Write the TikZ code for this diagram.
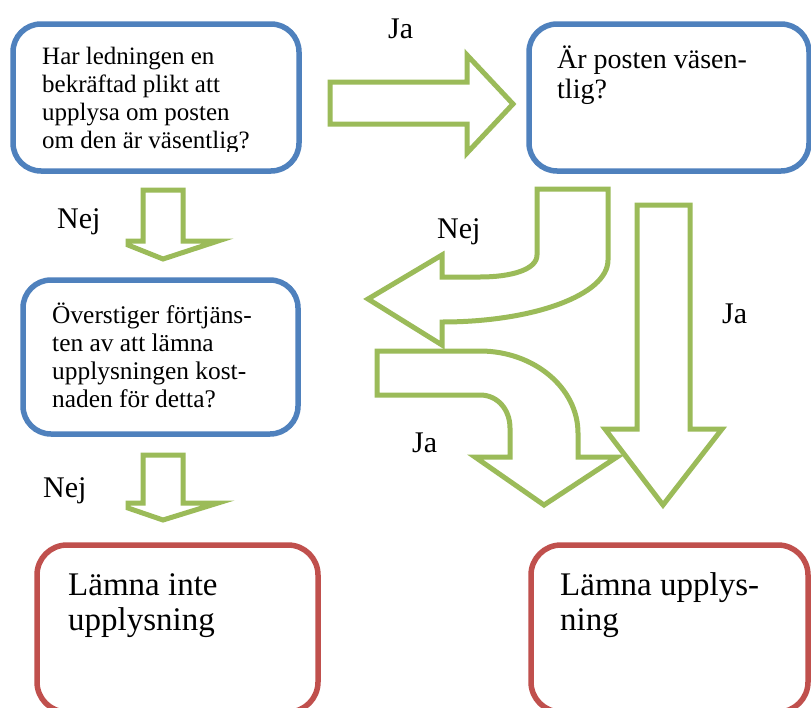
\documentclass[tikz,border=0pt]{standalone}
\usepackage{fontspec}
\setmainfont{Liberation Serif}
\definecolor{boxblue}{HTML}{4F81BD}
\definecolor{boxred}{HTML}{C0504D}
\definecolor{arrgreen}{HTML}{9BBB59}
\begin{document}
\begin{tikzpicture}[x=1pt,y=-1pt,
  qbox/.style={draw=boxblue,line width=5.5pt,rounded corners=28pt,anchor=north west,inner sep=0pt,outer sep=0pt},
  rbox/.style={draw=boxred,line width=5.5pt,rounded corners=30pt,anchor=north west,inner sep=0pt,outer sep=0pt},
  garrow/.style={draw=arrgreen,fill=white,line width=5pt,line join=miter,miter limit=10},
  lbl/.style={font=\fontsize{30}{36}\selectfont,inner sep=0pt,anchor=base west},
  qtext/.style={inner sep=0pt,anchor=base west,align=left}]
\useasboundingbox (0,0) rectangle (811,707);
\clip (0,0) rectangle (811,707);
\fill[white] (0,0) rectangle (811,707);
% question boxes
\node[qbox,minimum width=286pt,minimum height=147pt] (q1) at (13,24) {};
\node[qbox,minimum width=280pt,minimum height=147pt] (q2) at (529,24) {};
\node[qbox,minimum width=275pt,minimum height=154pt] (q3) at (23,280) {};
% answer boxes
\node[rbox,minimum width=281pt,minimum height=167pt] (r1) at (37,545) {};
\node[rbox,minimum width=277pt,minimum height=167pt] (r2) at (531,545) {};
% box texts (base anchor = baseline of last line)
\begin{scope}
\clip (0,0) rectangle (811,151);
\node[qtext,font=\fontsize{25}{27.7}\selectfont] (t1) at (42,148)
  {Har ledningen en\\bekräftad plikt att\\upplysa om posten\\om den är väsentlig?};
\end{scope}
\node[qtext,font=\fontsize{28}{30}\selectfont] (t2) at (557,98) {Är posten väsen-\\tlig?};
\node[qtext,font=\fontsize{25.4}{28}\selectfont] (t3) at (52,407)
  {Överstiger förtjäns-\\ten av att lämna\\upplysningen kost-\\naden för detta?};
\node[qtext,font=\fontsize{33}{35}\selectfont] (t4) at (68,630) {Lämna inte\\upplysning};
\node[qtext,font=\fontsize{33}{35}\selectfont] (t5) at (560,630) {Lämna upplys-\\ning};
% arrows
\draw[garrow] (330,82) -- (467,82) -- (467,55) -- (513,104) -- (467,153) -- (467,124) -- (330,124) -- cycle;
\draw[garrow] (143,190) -- (183,190) -- (183,241) -- (218,241) -- (163,259) -- (128,245) -- (128,241) -- (143,241) -- cycle;
\draw[garrow] (143,455) -- (183,455) -- (183,503) -- (218,503) -- (163,520) -- (128,508) -- (128,503) -- (143,503) -- cycle;
\draw[garrow] (637,205) -- (690,205) -- (690,429) -- (722,429) -- (663,505) -- (605,429) -- (637,429) -- cycle;
\draw[garrow] (537,189) -- (608,189) -- (608,260) .. controls (608,295) and (533,322) .. (442,322)
  -- (442,345) -- (368,299) -- (442,255) -- (442,277) -- (480,277) .. controls (510,277) and (537,270) .. (537,255) -- cycle;
\draw[garrow] (377,351) -- (480,351) .. controls (534,351) and (578,388) .. (578,433) -- (578,457) -- (617,457)
  -- (544,505) -- (475,457) -- (510,457) -- (510,428) .. controls (510,410) and (498,395) .. (480,395) -- (377,395) -- cycle;
% labels
\node[lbl] (l1) at (388,38) {Ja};
\node[lbl] (l2) at (57,228) {Nej};
\node[lbl] (l3) at (437,238) {Nej};
\node[lbl] (l4) at (722,323) {Ja};
\node[lbl] (l5) at (412,452) {Ja};
\node[lbl] (l6) at (43,497) {Nej};
\end{tikzpicture}
\end{document}
